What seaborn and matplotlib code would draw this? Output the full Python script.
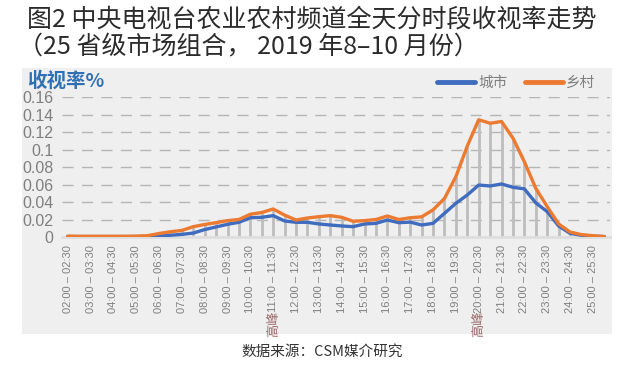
import numpy as np
import pandas as pd

import matplotlib
matplotlib.use('Agg')

import matplotlib.pyplot as plt
from matplotlib.lines import Line2D
import seaborn as sns

# half-hour slots, 02:00 .. 25:30
slots = list(range(48))

urban = [0.0005, 0.0005, 0.0005, 0.0005, 0.0005, 0.0005, 0.0005, 0.0005,
         0.001, 0.002, 0.003, 0.0045, 0.0085, 0.0115, 0.0145, 0.0168,
         0.022, 0.0225, 0.0244, 0.0183, 0.0168, 0.0168, 0.0149, 0.0137,
         0.0126, 0.0118, 0.0149, 0.0156, 0.0194, 0.0164, 0.017, 0.0137,
         0.0156, 0.027, 0.0385, 0.048, 0.0594, 0.0583, 0.0606, 0.0568,
         0.055, 0.039, 0.029, 0.0126, 0.0042, 0.002, 0.001, 0.0005]

rural = [0.001, 0.0008, 0.0008, 0.0008, 0.0008, 0.0008, 0.001, 0.0015,
         0.004, 0.006, 0.0075, 0.0118, 0.0143, 0.0164, 0.0187, 0.020,
         0.026, 0.028, 0.032, 0.025, 0.0194, 0.0217, 0.0232, 0.0244,
         0.0225, 0.018, 0.0187, 0.020, 0.024, 0.020, 0.022, 0.023,
         0.031, 0.044, 0.069, 0.104, 0.134, 0.130, 0.132, 0.113,
         0.086, 0.0556, 0.0347, 0.0149, 0.0057, 0.0027, 0.0015, 0.0005]

tick_labels = ["02:00 – 02:30", "03:00 – 03:30", "04:00 – 04:30", "05:00 – 05:30",
               "06:00 – 06:30", "07:00 – 07:30", "08:00 – 08:30", "09:00 – 09:30",
               "10:00 – 10:30", "11:00 – 11:30", "12:00 – 12:30", "13:00 – 13:30",
               "14:00 – 14:30", "15:00 – 15:30", "16:00 – 16:30", "17:00 – 17:30",
               "18:00 – 18:30", "19:00 – 19:30", "20:00 – 20:30", "21:00 – 21:30",
               "22:00 – 22:30", "23:00 – 23:30", "24:00 – 24:30", "25:00 – 25:30"]

peak_slots = [18, 36]

blue = "#3f6cbf"
orange = "#ec7a31"

sns.set_style("white")
plt.rcParams['font.family'] = ['Noto Sans CJK SC', 'DejaVu Sans']

df = pd.DataFrame({
    "slot": slots * 2,
    "rating": urban + rural,
    "area": ["城市"] * len(slots) + ["乡村"] * len(slots),
})

fig = plt.figure(figsize=(6.35, 3.77), dpi=100)

# grey chart panel behind the axes
bg = fig.add_axes([22 / 635, 1 - 334 / 377, 590 / 635, 266 / 377], zorder=-5)
bg.set_facecolor("#efefef")
bg.set_xticks([])
bg.set_yticks([])
for s in bg.spines.values():
    s.set_visible(False)

ax = fig.add_axes([62 / 635, 1 - 237 / 377, 548 / 635, 140 / 377], zorder=1)
ax.set_facecolor("none")

# drop lines
ax.vlines(slots, 0, np.maximum(urban, rural), color="#bdbdbd", lw=2, zorder=1)

sns.lineplot(data=df, x="slot", y="rating", hue="area",
             palette={"城市": blue, "乡村": orange}, linewidth=2.4,
             ax=ax, legend=False, zorder=3)

ax.set_xlim(-0.5, 47.5)
ax.set_ylim(0, 0.16)
yt = [0, 0.02, 0.04, 0.06, 0.08, 0.1, 0.12, 0.14, 0.16]
ax.set_yticks(yt)
ax.set_yticklabels(["0", "0.02", "0.04", "0.06", "0.08", "0.1", "0.12", "0.14", "0.16"],
                   fontsize=11.5, color="#7f7f7f", family="Liberation Sans")
for v in yt[1:]:
    ax.axhline(v, color="#b5b5b5", lw=1, dashes=(8, 6), zorder=0.5)
ax.set_xticks(slots[::2])
ax.set_xticklabels(tick_labels, rotation=90, fontsize=8, color="#7f7f7f",
                   family="Liberation Sans")
ax.tick_params(length=0, pad=6)
for s in ["top", "right", "left"]:
    ax.spines[s].set_visible(False)
ax.spines["bottom"].set_color("#dedede")
ax.spines["bottom"].set_linewidth(2)
ax.set_xlabel("")
ax.set_ylabel("")

for s in peak_slots:
    ax.text(s, -0.099, "高峰", rotation=90, ha="center", va="center",
            fontsize=9.5, color="#9a6a6a")

# legend
handles = [Line2D([], [], color=blue, lw=3.5), Line2D([], [], color=orange, lw=3.5)]
fig.legend(handles, ["城市", "乡村"], loc="center right",
           bbox_to_anchor=(608 / 635, 1 - 83 / 377), ncol=2, frameon=False,
           fontsize=10.5, handlelength=2.6, handletextpad=0.2, columnspacing=1.2,
           labelcolor="#7f7f7f")

fig.text(27 / 635, 1 - 81 / 377, "收视率%", fontsize=14, fontweight="bold",
         color="#2f70b4", va="center", ha="left")

fig.text(27 / 635, 1 - 20 / 377, "图2 中央电视台农业农村频道全天分时段收视率走势",
         fontsize=18, color="#2b2b2b", va="center", ha="left", fontweight="light")
fig.text(18 / 635, 1 - 47 / 377, "（25 省级市场组合， 2019 年8–10 月份）",
         fontsize=18, color="#2b2b2b", va="center", ha="left", fontweight="light")
fig.text(322 / 635, 1 - 352 / 377, "数据来源：CSM媒介研究", fontsize=10.5,
         color="#333333", va="center", ha="center")

plt.savefig("out.png", dpi=100)
plt.close()
